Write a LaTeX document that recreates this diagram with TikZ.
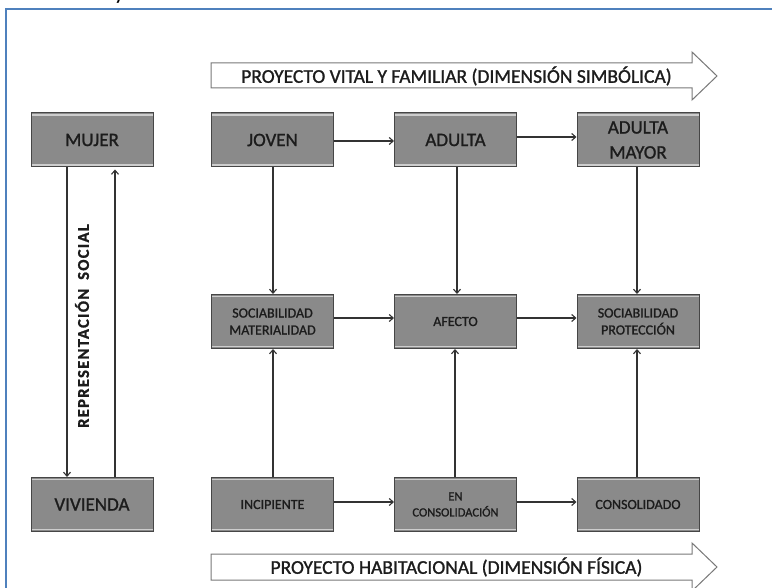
\documentclass[tikz,border=0pt]{standalone}
\usepackage{fontspec}
\setmainfont{Carlito}
\newfontfamily\heavyfont[FakeBold=1.2]{Carlito}
\usetikzlibrary{arrows.meta}
\definecolor{frameblue}{RGB}{79,129,189}
\definecolor{boxgray}{RGB}{138,138,138}
\definecolor{boxborder}{RGB}{70,70,70}
\definecolor{boxlight}{RGB}{205,205,205}
\definecolor{textdark}{RGB}{28,28,28}
\definecolor{linegray}{RGB}{50,50,50}
\definecolor{bigarrow}{RGB}{120,120,120}
\begin{document}
\begin{tikzpicture}[x=1pt,y=-1pt,
  box/.style={draw=boxborder, line width=1pt, fill=boxgray, minimum width=122pt,
    minimum height=54pt, inner sep=0pt, text=textdark, align=center,
    font=\heavyfont\fontsize{19}{25}\selectfont,
    path picture={
      \draw[boxlight, line width=1.2pt]
        ([yshift=-2pt]path picture bounding box.north west) -- ([yshift=-2pt]path picture bounding box.north east);
      \draw[boxlight, line width=1.2pt]
        ([yshift=2pt]path picture bounding box.south west) -- ([yshift=2pt]path picture bounding box.south east);
    }},
  small/.style={font=\heavyfont\fontsize{14}{17}\selectfont},
  smaller/.style={font=\heavyfont\fontsize{12.5}{16}\selectfont},
  arr/.style={draw=linegray, line width=1.1pt, -{Straight Barb[length=4pt,width=7pt,line width=1.1pt]}},
  bigarr/.style={draw=bigarrow, line width=1pt, fill=white},
  arrtext/.style={inner sep=0pt, text=textdark, font=\heavyfont\fontsize{19.5}{22}\selectfont}
]
\useasboundingbox (0,0) rectangle (772,588);
\fill[white] (0,0) rectangle (772,588);
% frame
\draw[frameblue, line width=2pt] (6,9.5) rectangle (800,620);
\node[anchor=base west, inner sep=0pt, font=\fontsize{24}{24}\selectfont] (ycut) at (114,0) {y};

% big arrows
\draw[bigarr] (211,63) -- (692,63) -- (692,52) -- (717,76) -- (692,100) -- (692,88) -- (211,88) -- cycle;
\node[arrtext] (vital) at (456.5,76) {PROYECTO VITAL Y FAMILIAR (DIMENSIÓN SIMBÓLICA)};
\draw[bigarr] (211,554) -- (692,554) -- (692,543) -- (717,567) -- (692,591) -- (692,580) -- (211,580) -- cycle;
\node[arrtext] (habit) at (456.5,567) {PROYECTO HABITACIONAL (DIMENSIÓN FÍSICA)};

% boxes
\node[box] (mujer) at (92,140) {MUJER};
\node[box] (joven) at (272.5,140) {JOVEN};
\node[box] (adulta) at (455.5,140) {ADULTA};
\node[box] (mayor) at (638,140) {ADULTA\\MAYOR};
\node[box, small] (socmat) at (272.5,321.5) {SOCIABILIDAD\\MATERIALIDAD};
\node[box, small] (afecto) at (455.5,321.5) {AFECTO};
\node[box, small] (socprot) at (638,321.5) {SOCIABILIDAD\\PROTECCIÓN};
\node[box] (vivienda) at (92,504.5) {VIVIENDA};
\node[box, small] (incip) at (272.5,504.5) {INCIPIENTE};
\node[box, smaller] (encons) at (455.5,504.5) {EN\\CONSOLIDACIÓN};
\node[box, small] (cons) at (638,504.5) {CONSOLIDADO};

% left column
\draw[arr] ([xshift=-25pt]mujer.south) -- ([xshift=-25pt]vivienda.north);
\draw[arr] ([xshift=23pt]vivienda.north) -- ([xshift=23pt,yshift=-2pt]mujer.south);
\node[rotate=90, inner sep=0pt, text=textdark, font=\heavyfont\bfseries\fontsize{16.5}{18}\selectfont\addfontfeature{LetterSpace=8}] (repsoc) at (82,326) {REPRESENTACIÓN\hspace{9pt}SOCIAL};

% horizontal arrows
\draw[arr] ([yshift=-1pt]joven.east) -- ([yshift=-1pt]adulta.west);
\draw[arr] ([yshift=3pt]adulta.east) -- ([yshift=3pt]mayor.west);
\draw[arr] ([yshift=3.5pt]socmat.east) -- ([yshift=3.5pt]afecto.west);
\draw[arr] ([yshift=3.5pt]afecto.east) -- ([yshift=3.5pt]socprot.west);
\draw[arr] ([yshift=2.5pt]incip.east) -- ([yshift=2.5pt]encons.west);
\draw[arr] ([yshift=2.5pt]encons.east) -- ([yshift=2.5pt]cons.west);

% vertical arrows
\draw[arr] ([xshift=0.5pt]joven.south) -- ([xshift=0.5pt]socmat.north);
\draw[arr] ([xshift=1.5pt]adulta.south) -- ([xshift=1.5pt]afecto.north);
\draw[arr] ([xshift=-1pt]mayor.south) -- ([xshift=-1pt]socprot.north);
\draw[arr] ([xshift=0.5pt]incip.north) -- ([xshift=0.5pt]socmat.south);
\draw[arr] ([xshift=-0.5pt]encons.north) -- ([xshift=-0.5pt]afecto.south);
\draw[arr] ([xshift=-1pt]cons.north) -- ([xshift=-1pt]socprot.south);
\end{tikzpicture}
\end{document}
